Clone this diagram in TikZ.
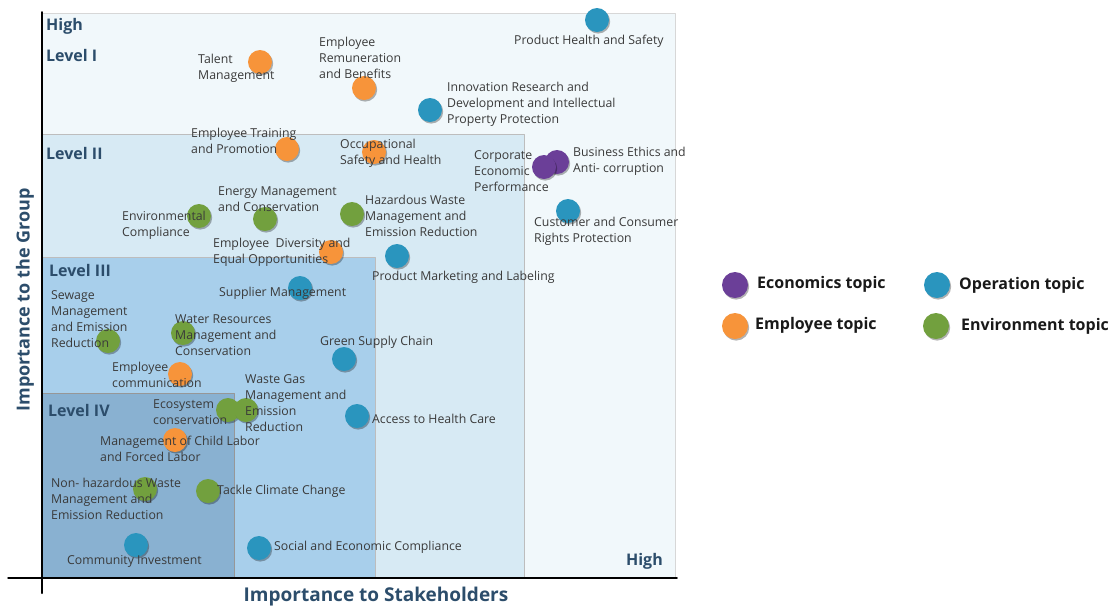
\documentclass[tikz,border=0pt]{standalone}
\usepackage{xcolor}
\usepackage{fontspec}
\setmainfont{Open Sans}
\usepackage{tikz}
\usetikzlibrary{shadows}
\definecolor{ffqqqqorange}{HTML}{F7943A}
\definecolor{qqblueop}{HTML}{2A95BE}
\definecolor{qqgreenenv}{HTML}{72A03E}
\definecolor{purpleeco}{HTML}{6B3F98}
\definecolor{levelone}{HTML}{F1F8FB}
\definecolor{leveltwo}{HTML}{D7EAF4}
\definecolor{levelthree}{HTML}{A8CFEB}
\definecolor{levelfour}{HTML}{89B1D1}
\definecolor{boxgray}{HTML}{BDBDBD}
\definecolor{levelblue}{HTML}{2C4D6B}
\definecolor{labelgray}{HTML}{3A3A3A}
\tikzstyle{every node}=[font=\fontsize{12.3}{16}\selectfont,text=labelgray]
\tikzset{topic/.style={circle,inner sep=0pt,minimum size=24pt,fill=#1,
    drop shadow={shadow xshift=1.2pt,shadow yshift=-1.6pt,fill=black,opacity=0.3}}}
\tikzstyle{lbl}=[anchor=west,align=left,inner sep=0pt,yshift=-1.5pt]
\tikzstyle{lvl}=[anchor=west,inner sep=0pt,font=\fontsize{16}{18}\selectfont\bfseries,text=levelblue]
\tikzstyle{legend}=[anchor=west,inner sep=0pt,font=\fontsize{16}{18}\selectfont\bfseries,text=black!90]

\begin{document}
\begin{tikzpicture}[line cap=round,line join=round,x=1pt,y=-1pt]
\useasboundingbox (0,0) rectangle (1112,606);
% level boxes
\draw [fill=levelone,draw=boxgray!60,line width=0.8pt] (42,13) rectangle (675,578);
\draw [fill=leveltwo,draw=boxgray,line width=0.8pt] (42,134) rectangle (524,578);
\draw [fill=levelthree,draw=boxgray,line width=0.8pt] (42,257) rectangle (375,578);
\draw [fill=levelfour,draw=boxgray!80!black,line width=0.8pt] (42,393) rectangle (234,578);
% axes
\draw [line width=2pt] (42,12) -- (42,593);
\draw [line width=1.5pt] (8,578) -- (677,578);
\node [lvl] (hightop) at (46,26) {High};
\node [lvl] (lvlone) at (46,55) {Level I};
\node [lvl] (lvltwo) at (46,153) {Level II};
\node [lvl] (lvlthree) at (49,270) {Level III};
\node [lvl] (lvlfour) at (48,410) {Level IV};
\node [lvl,anchor=east] (highright) at (663,561) {High};
\node [font=\fontsize{18}{20}\selectfont\bfseries,text=levelblue,rotate=90] (ygroup) at (25,300) {Importance to the Group};
\node [font=\fontsize{19}{20}\selectfont\bfseries,text=levelblue] (xstake) at (376,597) {Importance to Stakeholders};
% topic dots
\node [topic=qqblueop] (phs) at (597,20) {};
\node [topic=ffqqqqorange] (tm) at (260,62) {};
\node [topic=ffqqqqorange] (erb) at (364,88) {};
\node [topic=qqblueop] (irdip) at (430,110) {};
\node [topic=ffqqqqorange] (etp) at (287,149) {};
\node [topic=ffqqqqorange] (osh) at (374,152) {};
\node [topic=purpleeco] (bea) at (557,162) {};
\node [topic=purpleeco] (cep) at (544,167) {};
\node [topic=qqblueop] (ccrp) at (568,211) {};
\node [topic=qqgreenenv] (ec) at (199,216) {};
\node [topic=qqgreenenv] (emc) at (265,219) {};
\node [topic=qqgreenenv] (hwm) at (352,214) {};
\node [topic=ffqqqqorange] (edeo) at (331,252) {};
\node [topic=qqblueop] (pml) at (397,256) {};
\node [topic=qqblueop] (sm) at (300,288) {};
\node [topic=qqgreenenv] (smer) at (108,341) {};
\node [topic=qqgreenenv] (wrmc) at (183,333) {};
\node [topic=qqblueop] (gsc) at (344,359) {};
\node [topic=ffqqqqorange] (ecm) at (180,374) {};
\node [topic=qqgreenenv] (eco) at (228,410) {};
\node [topic=qqgreenenv] (wgm) at (246,410) {};
\node [topic=qqblueop] (ahc) at (357,416) {};
\node [topic=ffqqqqorange] (mcl) at (175,440) {};
\node [topic=qqgreenenv] (nhw) at (145,489) {};
\node [topic=qqgreenenv] (tcc) at (208,491) {};
\node [topic=qqblueop] (ci) at (136,545) {};
\node [topic=qqblueop] (sec) at (259,548) {};
% topic labels
\node [lbl] (phslbl) at (514,40) {Product Health and Safety};
\node [lbl] (tmlbl) at (198,67) {Talent\\Management};
\node [lbl] (erblbl) at (319,56) {Employee\\Remuneration\\and Benefits};
\node [lbl] (irdiplbl) at (447,103) {Innovation Research and\\Development and Intellectual\\Property Protection};
\node [lbl] (etplbl) at (191,139) {Employee Training\\and Promotion};
\node [lbl] (oshlbl) at (340,151.5) {Occupational\\Safety and Health};
\node [lbl] (ceplbl) at (474,169.5) {Corporate\\Economic\\Performance};
\node [lbl] (bealbl) at (573,160) {Business Ethics and\\Anti- corruption};
\node [lbl] (ccrplbl) at (534,229.5) {Customer and Consumer\\Rights Protection};
\node [lbl] (eclbl) at (122,224) {Environmental\\Compliance};
\node [lbl] (emclbl) at (218,198) {Energy Management\\and Conservation};
\node [lbl] (hwmlbl) at (365,214) {Hazardous Waste\\Management and\\Emission Reduction};
\node [lbl] (edeolbl) at (213,250.5) {Employee\ \ Diversity and\\Equal Opportunities};
\node [lbl] (pmllbl) at (372,276) {Product Marketing and Labeling};
\node [lbl] (smlbl) at (219,292) {Supplier Management};
\node [lbl] (smerlbl) at (51,318) {Sewage\\Management\\and Emission\\Reduction};
\node [lbl] (wrmclbl) at (175,334) {Water Resources\\Management and\\Conservation};
\node [lbl] (gsclbl) at (320,341) {Green Supply Chain};
\node [lbl] (ecmlbl) at (112,373.5) {Employee\\communication};
\node [lbl] (wgmlbl) at (245,402) {Waste Gas\\Management and\\Emission\\Reduction};
\node [lbl] (ecolbl) at (153,411) {Ecosystem\\conservation};
\node [lbl] (ahclbl) at (372,417) {Access to Health Care};
\node [lbl] (mcllbl) at (100,447.5) {Management of Child Labor\\and Forced Labor};
\node [lbl] (nhwlbl) at (51,497) {Non- hazardous Waste\\Management and\\Emission Reduction};
\node [lbl] (tcclbl) at (217,490) {Tackle Climate Change};
\node [lbl] (cilbl) at (67,560) {Community Investment};
\node [lbl] (seclbl) at (274,546) {Social and Economic Compliance};
% legend
\node [topic=purpleeco,minimum size=26pt] (legeco) at (735,285) {};
\node [legend] (legecolbl) at (757,284) {Economics topic};
\node [topic=qqblueop,minimum size=26pt] (legop) at (937,285) {};
\node [legend] (legoplbl) at (959,285) {Operation topic};
\node [topic=ffqqqqorange,minimum size=26pt] (legemp) at (735,326) {};
\node [legend] (legemplbl) at (755,325) {Employee topic};
\node [topic=qqgreenenv,minimum size=26pt] (legenv) at (936,326) {};
\node [legend] (legenvlbl) at (961,326) {Environment topic};
\end{tikzpicture}
\end{document}
